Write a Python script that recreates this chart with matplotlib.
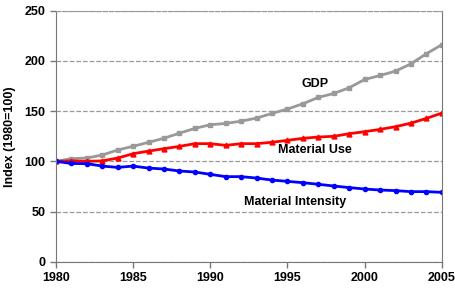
import matplotlib.pyplot as plt

# Daten (Index 1980 = 100)
jahre = list(range(1980, 2006))
gdp = [100, 102.7, 103.3, 106.3, 111.3, 115, 118.9, 123, 128, 132.8,
       136.4, 137.7, 140, 143, 147.7, 152, 157.3, 163.6, 167.5, 173.2,
       181.4, 185.4, 189.7, 197, 207, 216]
material_use = [100, 100.5, 100, 100.5, 103.3, 107.6, 110.2, 112.6, 114.9, 117.6,
                117.6, 115.9, 117.6, 117.6, 119, 120.9, 122.9, 124.2, 124.9, 127.5,
                129.5, 131.8, 134.5, 138, 142.7, 148]
material_intensity = [100, 97.9, 97.7, 95.3, 94, 95.3, 93.3, 92.4, 90.4, 89.4,
                      87.1, 84.8, 84.8, 83.4, 81.4, 80.1, 78.8, 77.2, 75.5, 73.9,
                      72.5, 71.5, 70.9, 69.9, 69.9, 69.2]

plt.rcParams['font.family'] = ['Liberation Sans', 'DejaVu Sans']
plt.rcParams['font.weight'] = 'bold'

fig = plt.figure(figsize=(4.55, 2.92), dpi=100)
ax = fig.add_axes([0.123, 0.103, 0.848, 0.861])

ax.plot(jahre, gdp, color='#999999', marker='s', markersize=3, linewidth=2)
ax.plot(jahre, material_use, color='#ff0000', marker='^', markersize=3.5, linewidth=2)
ax.plot(jahre, material_intensity, color='#0000ff', marker='o', markersize=3, linewidth=2)

ax.text(1996.8, 177, 'GDP', ha='center', va='center', fontsize=9, fontweight='bold')
ax.text(1996.8, 111, 'Material Use', ha='center', va='center', fontsize=9, fontweight='bold')
ax.text(1995.5, 60, 'Material Intensity', ha='center', va='center', fontsize=9, fontweight='bold')

ax.set_xlim(1980, 2005)
ax.set_ylim(0, 250)
ax.set_xticks(range(1980, 2006, 5))
ax.set_yticks(range(0, 251, 50))
ax.tick_params(labelsize=9, colors='#777777', labelcolor='black', length=4, width=1)
ax.set_ylabel('Index (1980=100)', fontsize=9, fontweight='bold', labelpad=6)

ax.yaxis.grid(True, linestyle='--', color='#999999', linewidth=0.9)
for seite in ['left', 'bottom', 'right']:
    ax.spines[seite].set_color('#777777')
ax.spines['top'].set_color('#999999')
ax.spines['top'].set_linestyle('--')

fig.savefig('out.png', dpi=100)
